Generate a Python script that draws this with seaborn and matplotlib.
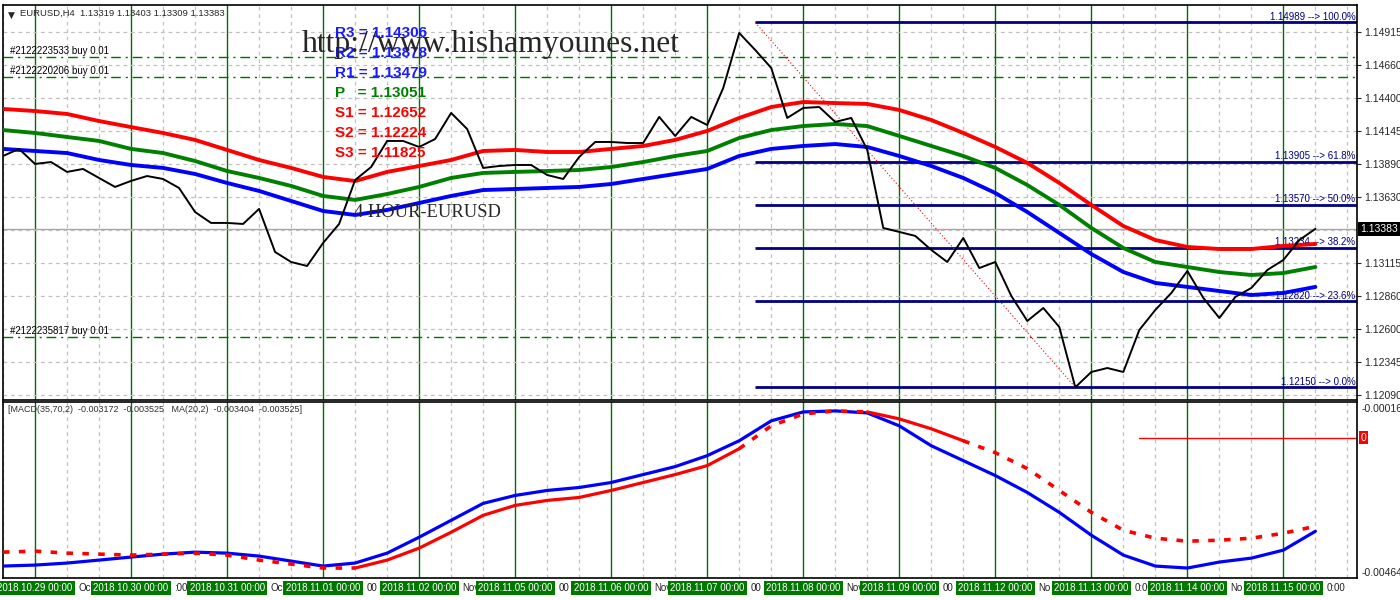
import numpy as np
import pandas as pd
import matplotlib
matplotlib.use("Agg")
import matplotlib.pyplot as plt
import matplotlib.transforms as mtransforms
import seaborn as sns

# ---------------- data ----------------
# H4 bars, bar 0 = 2018.10.29 00:00
bar_idx = list(range(-2, 81))
close = [
    1.13950, 1.14005,
    1.13888, 1.13903, 1.13826, 1.13849, 1.13779, 1.13709,
    1.13756, 1.13794, 1.13771, 1.13701, 1.13514, 1.13429,
    1.13429, 1.13421, 1.13538, 1.13203, 1.13125, 1.13094,
    1.13273, 1.13421, 1.13763, 1.13864, 1.14067, 1.14067,
    1.14020, 1.14082, 1.14285, 1.14160, 1.13857, 1.13872,
    1.13880, 1.13880, 1.13802, 1.13771, 1.13942, 1.14059,
    1.14059, 1.14051, 1.14051, 1.14254, 1.14106, 1.14254,
    1.14191, 1.14479, 1.14907, 1.14775, 1.14635, 1.14246,
    1.14324, 1.14331, 1.14215, 1.14246, 1.13997, 1.13390,
    1.13359, 1.13328, 1.13219, 1.13125, 1.13312, 1.13078,
    1.13125, 1.12861, 1.12666, 1.12767, 1.12619, 1.12150,
    1.12269, 1.12300, 1.12269, 1.12596, 1.12752, 1.12884,
    1.13055, 1.12845, 1.12689, 1.12853, 1.12923, 1.13063,
    1.13141, 1.13296, 1.13383,
]

# moving averages (read every 2 bars)
ma_idx = list(range(-2, 81, 2))
ma_high = [
    1.14316, 1.14300, 1.14277, 1.14222, 1.14175, 1.14129, 1.14075, 1.13997,
    1.13919, 1.13857, 1.13787, 1.13755, 1.13826, 1.13872, 1.13919, 1.13989,
    1.13997, 1.13981, 1.13981, 1.14005, 1.14028, 1.14075, 1.14145, 1.14246,
    1.14331, 1.14370, 1.14362, 1.14355, 1.14308, 1.14230, 1.14129, 1.14020,
    1.13896, 1.13740, 1.13569, 1.13405, 1.13296, 1.13242, 1.13226, 1.13226,
    1.13250, 1.13265,
]
ma_mid = [
    1.14152, 1.14129, 1.14098, 1.14067, 1.14005, 1.13973, 1.13911, 1.13833,
    1.13779, 1.13717, 1.13639, 1.13608, 1.13654, 1.13709, 1.13779, 1.13818,
    1.13826, 1.13833, 1.13841, 1.13864, 1.13903, 1.13950, 1.13989, 1.14090,
    1.14152, 1.14183, 1.14199, 1.14183, 1.14106, 1.14028, 1.13950, 1.13857,
    1.13724, 1.13569, 1.13390, 1.13234, 1.13125, 1.13086, 1.13047, 1.13024,
    1.13039, 1.13086,
]
ma_low = [
    1.14005, 1.13989, 1.13973, 1.13919, 1.13880, 1.13857, 1.13810, 1.13740,
    1.13678, 1.13600, 1.13522, 1.13491, 1.13530, 1.13584, 1.13639, 1.13685,
    1.13693, 1.13701, 1.13709, 1.13732, 1.13771, 1.13810, 1.13849, 1.13950,
    1.14005, 1.14028, 1.14043, 1.14020, 1.13950, 1.13872, 1.13779, 1.13662,
    1.13514, 1.13351, 1.13187, 1.13047, 1.12962, 1.12931, 1.12899, 1.12868,
    1.12884, 1.12931,
]

# lower window
macd_main = [
    -0.004479, -0.004452, -0.004397, -0.004316, -0.004234, -0.004153, -0.004099, -0.004126,
    -0.004207, -0.004343, -0.004479, -0.004397, -0.004126, -0.003692, -0.003230, -0.002768,
    -0.002551, -0.002415, -0.002334, -0.002198, -0.001981, -0.001764, -0.001465, -0.001058,
    -0.000515, -0.000271, -0.000243, -0.000298, -0.000651, -0.001194, -0.001601, -0.002008,
    -0.002470, -0.003013, -0.003637, -0.004180, -0.004479, -0.004533, -0.004370, -0.004262,
    -0.004044, -0.003529,
]
macd_signal = [
    -0.004099, -0.004072, -0.004126, -0.004153, -0.004180, -0.004153, -0.004126, -0.004180,
    -0.004316, -0.004425, -0.004533, -0.004533, -0.004316, -0.003990, -0.003556, -0.003094,
    -0.002823, -0.002687, -0.002606, -0.002415, -0.002198, -0.001981, -0.001737, -0.001275,
    -0.000651, -0.000325, -0.000243, -0.000271, -0.000461, -0.000732, -0.001058, -0.001384,
    -0.001818, -0.002415, -0.003013, -0.003501, -0.003719, -0.003800, -0.003773, -0.003719,
    -0.003583, -0.003393,
]
signal_solid_spans = [(20, 44), (52, 58)]
signal_dashed_spans = [(-2, 20), (44, 52), (58, 80)]
macd_ticks = [-0.000162, -0.004642]
macd_header = "[MACD(35,70,2)  -0.003172  -0.003525   MA(20,2)  -0.003404  -0.003525]"
red_level = -0.000977

day_start = [0, 6, 12, 18, 24, 30, 36, 42, 48, 54, 60, 66, 72, 78]
day_labels = ["2018.10.29 00:00", "2018.10.30 00:00", "2018.10.31 00:00", "2018.11.01 00:00",
              "2018.11.02 00:00", "2018.11.05 00:00", "2018.11.06 00:00", "2018.11.07 00:00",
              "2018.11.08 00:00", "2018.11.09 00:00", "2018.11.12 00:00", "2018.11.13 00:00",
              "2018.11.14 00:00", "2018.11.15 00:00"]
label_bits = ["Oc", ":00", "Oc", "00", "Nov", "00", "Nov", "00", "Nov", "00", "No", "0:00", "No", "0:00"]

fib_levels = [1.14989, 1.13905, 1.13570, 1.13234, 1.12820, 1.12150]
fib_pct = ["100.0%", "61.8%", "50.0%", "38.2%", "23.6%", "0.0%"]
swing_bars = [45, 65]
swing_prices = [1.14989, 1.12150]

price_ticks = [1.14915, 1.14660, 1.14400, 1.14145, 1.13890, 1.13630, 1.13375,
               1.13115, 1.12860, 1.12600, 1.12345, 1.12090]
order_ids = ["#2122223533", "#2122220206", "#2122235817"]
order_prices = [1.14720, 1.14565, 1.12542]

pivot_names = ["R3", "R2", "R1", "P  ", "S1", "S2", "S3"]
pivot_values = [1.14306, 1.13878, 1.13479, 1.13051, 1.12652, 1.12224, 1.11825]
pivot_colors = ["#1a1aff", "#1a1aff", "#1a1aff", "#008000", "#ff0000", "#ff0000", "#ff0000"]

last_ohlc = [1.13319, 1.13403, 1.13309, 1.13383]
last_price = 1.13383

# ---------------- figure ----------------
sns.set_style("white")
plt.rcParams["font.family"] = ["Liberation Sans", "DejaVu Sans"]

fig = plt.figure(figsize=(14, 6), dpi=100)
ax = fig.add_axes([3 / 1400, 1 - 400 / 600, 1354 / 1400, 395 / 600])
ax2 = fig.add_axes([3 / 1400, 1 - 578 / 600, 1354 / 1400, 176 / 600])

xmin, xmax = -2.0, 82.6
for a in (ax, ax2):
    a.set_xlim(xmin, xmax)
    for s in a.spines.values():
        s.set_color("black")
        s.set_linewidth(1.2)
    # grid every 2 bars, day separators in green
    for k in range(-2, 83, 2):
        if k % 6 == 0:
            a.axvline(k, color="#007000", lw=1.0, zorder=1)
        else:
            a.axvline(k, color="#c0c0c0", lw=0.9, ls=(0, (3, 3)), zorder=1)

ax.set_ylim(1.12051, 1.15125)
for p in price_ticks:
    ax.axhline(p, color="#c0c0c0", lw=0.9, ls=(0, (3, 3)), zorder=1)
ax.axhline(last_price, color="#a8a8a8", lw=1.0, zorder=1.5)

# order lines
blend_ax = mtransforms.blended_transform_factory(ax.transAxes, ax.transData)
for oid, op in zip(order_ids, order_prices):
    ax.axhline(op, color="#007000", lw=1.0, ls=(0, (7, 3.5, 1.5, 3.5)), zorder=1.6)
    ax.text(0.005, op + 0.00008, f"{oid} buy 0.01", transform=blend_ax,
            fontsize=7, color="black", va="bottom", ha="left", zorder=6)

# fibonacci
for lvl, pct in zip(fib_levels, fib_pct):
    ax.plot([swing_bars[0], xmax], [lvl, lvl], color="#000080", lw=2.0, zorder=2,
            solid_capstyle="butt")
    ax.text(xmax - 0.1, lvl + 0.00005, f"{lvl:.5f} --> {pct}", color="#000080",
            fontsize=7, ha="right", va="bottom", zorder=2.5)
ax.plot(swing_bars, swing_prices, color="#ff0000", lw=0.8, ls=(0, (1, 2)), zorder=2)

# moving averages + close
ma_df = pd.DataFrame({"bar": ma_idx, "high": ma_high, "mid": ma_mid, "low": ma_low})
sns.lineplot(data=ma_df, x="bar", y="high", ax=ax, color="#ff0000", lw=2.8, zorder=3)
sns.lineplot(data=ma_df, x="bar", y="mid", ax=ax, color="#008000", lw=2.8, zorder=3)
sns.lineplot(data=ma_df, x="bar", y="low", ax=ax, color="#0000ff", lw=2.8, zorder=3)

px_df = pd.DataFrame({"bar": bar_idx, "close": close})
sns.lineplot(data=px_df, x="bar", y="close", ax=ax, color="black", lw=1.4, zorder=4)

# texts
ax.text(0.004, 0.985, "\u25bc", transform=ax.transAxes, fontsize=6.5, va="top",
        family="DejaVu Sans")
ax.text(0.0125, 0.99, "EURUSD,H4  " + " ".join(f"{v:.5f}" for v in last_ohlc),
        transform=ax.transAxes, fontsize=6.8, va="top")
for i, (nm, val, col) in enumerate(zip(pivot_names, pivot_values, pivot_colors)):
    ax.text(0.2452, 0.928 - i * 0.0506, f"{nm} = {val:.5f}", transform=ax.transAxes,
            color=col, fontsize=11, fontweight="bold", va="center", zorder=7)
ax.text(0.2205, 0.881, "http://www.hishamyounes.net", transform=ax.transAxes,
        family="Liberation Serif", fontsize=22.8, va="baseline", zorder=8)
ax.text(19.9, 1.1351, "4 HOUR-EURUSD", family="Liberation Serif", fontsize=13.3,
        va="center", ha="left", zorder=8)

ax.yaxis.tick_right()
ax.set_yticks([p for p in price_ticks if p != 1.13375])
ax.set_yticklabels([f"{p:.5f}" for p in price_ticks if p != 1.13375])
ax.tick_params(axis="y", labelsize=7.5, length=3, pad=2, right=True, direction="out")
ax.tick_params(axis="x", bottom=False, labelbottom=False)
ax.set_xlabel("")
ax.set_ylabel("")
blend_r = mtransforms.blended_transform_factory(ax.transAxes, ax.transData)
ax.text(1.0025, last_price, f"{last_price:.5f}", transform=blend_r, color="white",
        fontsize=7.5, va="center", ha="left",
        bbox=dict(boxstyle="square,pad=0.2", fc="black", ec="none"), clip_on=False, zorder=9)

# ---------------- lower window ----------------
ax2.set_ylim(-0.004805, 0.0)
md = pd.DataFrame({"bar": ma_idx, "main": macd_main, "signal": macd_signal})
sns.lineplot(data=md, x="bar", y="main", ax=ax2, color="#0000ff", lw=2.3, zorder=3)
for a0, a1 in signal_solid_spans:
    part = md[(md["bar"] >= a0) & (md["bar"] <= a1)]
    sns.lineplot(data=part, x="bar", y="signal", ax=ax2, color="#ff0000", lw=2.3, zorder=3.5)
for a0, a1 in signal_dashed_spans:
    part = md[(md["bar"] >= a0) & (md["bar"] <= a1)]
    sns.lineplot(data=part, x="bar", y="signal", ax=ax2, color="#ff0000", lw=2.6,
                 linestyle=(0, (1.8, 2.6)), zorder=3.5)
ax2.plot([69, xmax], [red_level, red_level], color="#ff0000", lw=1.0, zorder=2)
ax2.text(0.004, 0.985, macd_header, transform=ax2.transAxes, fontsize=6.5,
         color="#303030", va="top", ha="left", zorder=6)

ax2.yaxis.tick_right()
ax2.set_yticks(macd_ticks)
ax2.set_yticklabels([f"{v:.6f}" for v in macd_ticks])
ax2.tick_params(axis="y", labelsize=7.5, length=0, pad=3)
ax2.set_xticks(range(-2, 83, 2))
ax2.set_xticklabels([])
ax2.tick_params(axis="x", length=3, direction="out", color="black")
ax2.set_xlabel("")
ax2.set_ylabel("")
blend_r2 = mtransforms.blended_transform_factory(ax2.transAxes, ax2.transData)
ax2.text(1.0025, red_level, "0", transform=blend_r2, color="white", fontsize=7.5,
         va="center", ha="left", bbox=dict(boxstyle="square,pad=0.15", fc="#ff0000", ec="none"),
         clip_on=False, zorder=9)

blend_x = mtransforms.blended_transform_factory(ax2.transData, ax2.transAxes)
for k, bit in zip(day_start, label_bits):
    ax2.text(k + 2.7, -0.057, bit, transform=blend_x, fontsize=7, color="#202020",
             ha="left", va="center", clip_on=False)
for k, lab in zip(day_start, day_labels):
    ax2.text(k, -0.057, lab, transform=blend_x, fontsize=7, color="white", ha="center",
             va="center", clip_on=False, zorder=10,
             bbox=dict(boxstyle="square,pad=0.25", fc="#007800", ec="none"))

fig.savefig("out.png", dpi=100)
